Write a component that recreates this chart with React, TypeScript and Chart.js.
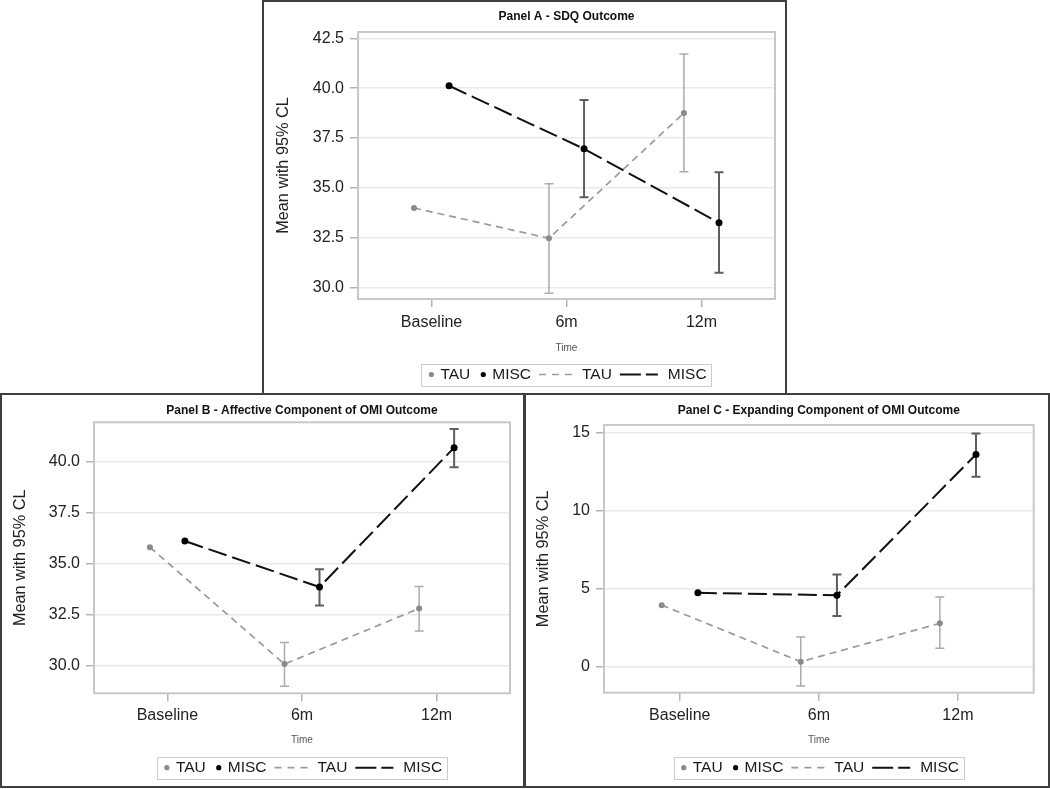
import React, { useEffect, useRef } from 'react';
import { Chart, registerables } from 'chart.js';

Chart.register(...registerables);

const FONT = '"Liberation Sans", Arial, Helvetica, sans-serif';

// ---------------- data ----------------
const TIME_LABELS = ['Baseline', '6m', '12m'];
const SERIES_NAMES = ['TAU', 'MISC'];
const Y_TITLE = 'Mean with 95% CL';
const X_TITLE = 'Time';

// Panel A - SDQ Outcome
const A_TAU_MEAN = [33.98, 32.46, 38.75];
const A_TAU_LOWER = [null, 29.7, 35.8];
const A_TAU_UPPER = [null, 35.2, 41.72];
const A_MISC_MEAN = [40.12, 36.95, 33.24];
const A_MISC_LOWER = [null, 34.52, 30.73];
const A_MISC_UPPER = [null, 39.4, 35.78];
const A_Y_TICKS = [30, 32.5, 35, 37.5, 40, 42.5];

// Panel B - Affective Component of OMI Outcome
const B_TAU_MEAN = [35.8, 30.08, 32.8];
const B_TAU_LOWER = [null, 29.0, 31.7];
const B_TAU_UPPER = [null, 31.14, 33.88];
const B_MISC_MEAN = [36.1, 33.85, 40.67];
const B_MISC_LOWER = [null, 32.95, 39.71];
const B_MISC_UPPER = [null, 34.72, 41.58];
const B_Y_TICKS = [30, 32.5, 35, 37.5, 40];

// Panel C - Expanding Component of OMI Outcome
const C_TAU_MEAN = [3.93, 0.3, 2.76];
const C_TAU_LOWER = [null, -1.26, 1.16];
const C_TAU_UPPER = [null, 1.88, 4.45];
const C_MISC_MEAN = [4.72, 4.56, 13.6];
const C_MISC_LOWER = [null, 3.23, 12.17];
const C_MISC_UPPER = [null, 5.9, 14.95];
const C_Y_TICKS = [0, 5, 10, 15];

// ---------------- styles ----------------
const DODGE = 0.13;
const X_MIN = -0.545;
const X_MAX = 2.545;

const TAU_STYLE = {
  line: '#9a9a9a', point: '#8a8a8a', err: '#ababab', dash: [7, 5], width: 1.7,
  radius: 3, errWidth: 1.5, cap: 4.5, legendDash: [7, 6], legendLine: 33,
};
const MISC_STYLE = {
  line: '#111111', point: '#000000', err: '#5e5e5e', dash: [19, 6], width: 2,
  radius: 3.5, errWidth: 2, cap: 4.5, legendDash: [21, 5], legendLine: 38,
};

type Series = { mean: number[]; lo: (number | null)[]; hi: (number | null)[] };
type PanelCfg = {
  title: string;
  left: number; top: number; width: number; height: number;
  area: { l: number; t: number; r: number; b: number };
  yMin: number; yMax: number; yTicks: number[]; decimals: number;
  tau: Series; misc: Series;
  titleY: number; tickPad: number; timeY: number; legendY: number; yTitlePad: number;
};

const PANELS: PanelCfg[] = [
  {
    title: 'Panel A - SDQ Outcome',
    left: 263, top: 0, width: 522, height: 393,
    area: { l: 95, t: 32, r: 512, b: 299 },
    yMin: 29.41, yMax: 42.82, yTicks: A_Y_TICKS, decimals: 1,
    tau: { mean: A_TAU_MEAN, lo: A_TAU_LOWER, hi: A_TAU_UPPER },
    misc: { mean: A_MISC_MEAN, lo: A_MISC_LOWER, hi: A_MISC_UPPER },
    titleY: 17, tickPad: 6, timeY: 348.3, legendY: 374.5, yTitlePad: 10.4,
  },
  {
    title: 'Panel B - Affective Component of OMI Outcome',
    left: 0, top: 394, width: 523, height: 394,
    area: { l: 94, t: 28.3, r: 510, b: 299.3 },
    yMin: 28.65, yMax: 41.91, yTicks: B_Y_TICKS, decimals: 1,
    tau: { mean: B_TAU_MEAN, lo: B_TAU_LOWER, hi: B_TAU_UPPER },
    misc: { mean: B_MISC_MEAN, lo: B_MISC_LOWER, hi: B_MISC_UPPER },
    titleY: 16.7, tickPad: 4.5, timeY: 346.7, legendY: 373.7, yTitlePad: 10.4,
  },
  {
    title: 'Panel C - Expanding Component of OMI Outcome',
    left: 524, top: 394, width: 525, height: 394,
    area: { l: 80, t: 31, r: 509.7, b: 298.7 },
    yMin: -1.69, yMax: 15.49, yTicks: C_Y_TICKS, decimals: 0,
    tau: { mean: C_TAU_MEAN, lo: C_TAU_LOWER, hi: C_TAU_UPPER },
    misc: { mean: C_MISC_MEAN, lo: C_MISC_LOWER, hi: C_MISC_UPPER },
    titleY: 16.7, tickPad: 5, timeY: 346.7, legendY: 373.7, yTitlePad: 10,
  },
];

// ---------------- plugin ----------------
const decorPlugin = {
  id: 'decor',
  beforeDatasetsDraw(chart: any) {
    const ctx = chart.ctx as CanvasRenderingContext2D;
    const ca = chart.chartArea;
    // plot frame
    ctx.save();
    ctx.strokeStyle = '#c8c8c8';
    ctx.lineWidth = 2;
    ctx.strokeRect(ca.left, ca.top, ca.right - ca.left, ca.bottom - ca.top);
    ctx.restore();
    // error bars
    const yS = chart.scales.y;
    chart.data.datasets.forEach((ds: any, di: number) => {
      const meta = chart.getDatasetMeta(di);
      ctx.save();
      ctx.strokeStyle = ds.errColor;
      ctx.lineWidth = ds.errWidth;
      ctx.setLineDash([]);
      meta.data.forEach((pt: any, i: number) => {
        const raw = ds.data[i];
        if (raw.lo == null || raw.hi == null) return;
        const x = pt.x;
        const y1 = yS.getPixelForValue(raw.lo);
        const y2 = yS.getPixelForValue(raw.hi);
        const c = ds.errCap;
        ctx.beginPath();
        ctx.moveTo(x, y1); ctx.lineTo(x, y2);
        ctx.moveTo(x - c, y1); ctx.lineTo(x + c, y1);
        ctx.moveTo(x - c, y2); ctx.lineTo(x + c, y2);
        ctx.stroke();
      });
      ctx.restore();
    });
  },
  afterDraw(chart: any) {
    const ctx = chart.ctx as CanvasRenderingContext2D;
    const ca = chart.chartArea;
    const o = chart.options.plugins.decor;
    const cx = (ca.left + ca.right) / 2;
    // title
    ctx.save();
    ctx.fillStyle = '#111';
    ctx.font = `bold 12px ${FONT}`;
    ctx.textAlign = 'center';
    ctx.textBaseline = 'middle';
    ctx.fillText(o.title, cx, o.titleY);
    ctx.restore();

    // legend
    const fontSize = 15.5;
    ctx.save();
    ctx.font = `${fontSize}px ${FONT}`;
    type Item = { kind: 'point' | 'line'; ds: any; text: string; w: number };
    const items: Item[] = [];
    chart.data.datasets.forEach((ds: any) => items.push({ kind: 'point', ds, text: ds.label, w: 10 }));
    chart.data.datasets.forEach((ds: any) => items.push({ kind: 'line', ds, text: ds.label, w: ds.legendLine }));
    const pad = 5, gapPoint = 4, gapLine = 10, itemGap = 8;
    let total = pad * 2 + itemGap * (items.length - 1);
    const tws = items.map((it) => ctx.measureText(it.text).width);
    items.forEach((it, i) => { total += it.w + (it.kind === 'point' ? gapPoint : gapLine) + tws[i]; });
    const boxH = 22;
    const bx = cx - total / 2;
    const by = o.legendY - boxH / 2;
    ctx.strokeStyle = '#cccccc';
    ctx.lineWidth = 1;
    ctx.strokeRect(Math.round(bx) + 0.5, Math.round(by) + 0.5, Math.round(total), boxH);
    let x = bx + pad;
    const y = o.legendY;
    items.forEach((it, i) => {
      if (it.kind === 'point') {
        ctx.fillStyle = it.ds.pointBackgroundColor;
        ctx.beginPath();
        ctx.arc(x + it.w / 2, y, 2.6, 0, Math.PI * 2);
        ctx.fill();
        x += it.w + gapPoint;
      } else {
        ctx.strokeStyle = it.ds.borderColor;
        ctx.lineWidth = it.ds.borderWidth;
        ctx.setLineDash(it.ds.legendDash);
        ctx.beginPath();
        ctx.moveTo(x, y);
        ctx.lineTo(x + it.w, y);
        ctx.stroke();
        ctx.setLineDash([]);
        x += it.w + gapLine;
      }
      ctx.fillStyle = '#1a1a1a';
      ctx.textAlign = 'left';
      ctx.textBaseline = 'middle';
      ctx.fillText(it.text, x, y + 0.5);
      x += tws[i] + itemGap;
    });
    ctx.restore();
  },
};

function makeDataset(name: string, s: Series, sign: number, st: typeof TAU_STYLE) {
  return {
    label: name,
    data: s.mean.map((m, i) => ({ x: i + sign * DODGE, y: m, lo: s.lo[i], hi: s.hi[i] })),
    borderColor: st.line,
    borderWidth: st.width,
    borderDash: st.dash,
    pointBackgroundColor: st.point,
    pointBorderColor: st.point,
    pointBorderWidth: 0,
    pointRadius: st.radius,
    pointHoverRadius: st.radius,
    tension: 0,
    fill: false,
    errColor: st.err,
    errWidth: st.errWidth,
    errCap: st.cap,
    legendDash: st.legendDash,
    legendLine: st.legendLine,
  };
}

function PanelChart({ cfg }: { cfg: PanelCfg }) {
  const ref = useRef<HTMLCanvasElement>(null);
  useEffect(() => {
    if (!ref.current) return;
    const a = cfg.area;
    const chart = new Chart(ref.current, {
      type: 'line',
      data: {
        datasets: [
          makeDataset(SERIES_NAMES[0], cfg.tau, -1, TAU_STYLE),
          makeDataset(SERIES_NAMES[1], cfg.misc, 1, MISC_STYLE),
        ] as any,
      },
      options: {
        responsive: false,
        animation: false,
        devicePixelRatio: 1,
        layout: { padding: { top: a.t, right: cfg.width - a.r, bottom: 0, left: 0 } },
        events: [],
        plugins: {
          legend: { display: false },
          tooltip: { enabled: false },
          title: { display: false },
          decor: { title: cfg.title, titleY: cfg.titleY, legendY: cfg.legendY },
        } as any,
        scales: {
          x: {
            type: 'linear',
            min: X_MIN,
            max: X_MAX,
            afterBuildTicks: (axis: any) => { axis.ticks = TIME_LABELS.map((_, i) => ({ value: i })); },
            afterFit: (axis: any) => { axis.height = cfg.height - a.b; },
            ticks: {
              autoSkip: false,
              maxRotation: 0,
              padding: cfg.tickPad,
              color: '#222',
              font: { family: FONT, size: 16 },
              callback: (v: any) => TIME_LABELS[Math.round(Number(v))] ?? '',
            },
            grid: { drawOnChartArea: false, drawTicks: true, tickLength: 8, tickColor: '#b4b4b4', lineWidth: 1.5 },
            border: { display: false },
            title: {
              display: true,
              text: X_TITLE,
              color: '#555',
              font: { family: FONT, size: 10 },
              padding: { top: 0, bottom: cfg.height - cfg.timeY - 6 },
            },
          },
          y: {
            type: 'linear',
            min: cfg.yMin,
            max: cfg.yMax,
            afterBuildTicks: (axis: any) => { axis.ticks = cfg.yTicks.map((v) => ({ value: v })); },
            afterFit: (axis: any) => { axis.width = a.l; },
            ticks: {
              padding: 6,
              color: '#222',
              font: { family: FONT, size: 16 },
              callback: (v: any) => Number(v).toFixed(cfg.decimals),
            },
            grid: { color: '#e9e9e9', lineWidth: 1.5, drawTicks: true, tickLength: 8, tickColor: '#b4b4b4' },
            border: { display: false },
            title: {
              display: true,
              text: Y_TITLE,
              color: '#222',
              font: { family: FONT, size: 16.3 },
              padding: { top: cfg.yTitlePad, bottom: 0 },
            },
          },
        },
      },
      plugins: [decorPlugin as any],
    });
    return () => chart.destroy();
  }, [cfg]);
  return (
    <canvas
      ref={ref}
      width={cfg.width}
      height={cfg.height}
      style={{ position: 'absolute', left: cfg.left, top: cfg.top, width: cfg.width, height: cfg.height, display: 'block' }}
    />
  );
}

export default function App() {
  const borderColor = '#3f3f3f';
  return (
    <div style={{ position: 'absolute', left: 0, top: 0, width: 1050, height: 789, background: '#fff', overflow: 'hidden' }}>
      {PANELS.map((p) => <PanelChart key={p.title} cfg={p} />)}
      <div style={{ position: 'absolute', left: 262, top: 0, width: 525, height: 395, border: `2px solid ${borderColor}`, boxSizing: 'border-box', pointerEvents: 'none' }} />
      <div style={{ position: 'absolute', left: 0, top: 393, width: 1050, height: 395, border: `2px solid ${borderColor}`, boxSizing: 'border-box', pointerEvents: 'none' }} />
      <div style={{ position: 'absolute', left: 523, top: 393, width: 3, height: 395, background: borderColor, pointerEvents: 'none' }} />
    </div>
  );
}
